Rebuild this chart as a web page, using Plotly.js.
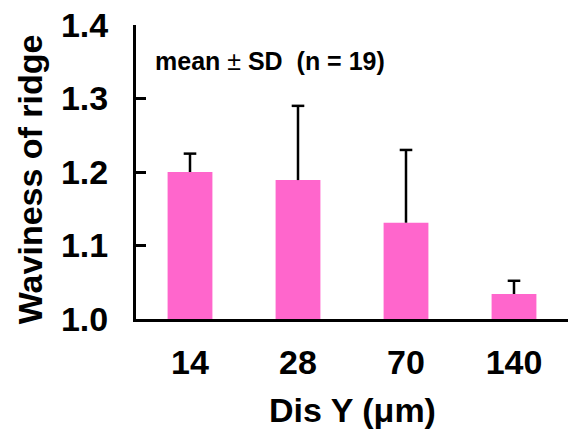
<!DOCTYPE html>
<html>
<head>
<meta charset="utf-8">
<script src="https://cdn.plot.ly/plotly-3.0.1.min.js"></script>
<style>html,body{margin:0;padding:0;background:#fff;}#chart{width:573px;height:430px;}</style>
</head>
<body>
<div id="chart"></div>
<script>
const categories = ["14", "28", "70", "140"];
const meanValues = [1.200, 1.189, 1.131, 1.034];
const sdValues = [0.025, 0.101, 0.099, 0.018];
const yTickVals = [1.0, 1.1, 1.2, 1.3, 1.4];
const yTickText = ["1.0", "1.1", "1.2", "1.3", "1.4"];

const FONT = "Liberation Sans, Arial, sans-serif";

const barTrace = {
  type: "bar",
  x: categories,
  y: meanValues,
  width: 0.415,
  marker: {color: "#ff66cc", line: {width: 0}},
  hoverinfo: "none"
};

// upper-only SD whisker: vertical line from mean to mean+SD
const whiskerTrace = {
  type: "scatter",
  mode: "markers",
  x: categories,
  y: meanValues,
  marker: {size: 1, color: "rgba(0,0,0,0)"},
  error_y: {
    type: "data",
    symmetric: false,
    array: sdValues,
    arrayminus: sdValues.map(() => 0),
    color: "#000",
    thickness: 2.5,
    width: 0
  },
  hoverinfo: "none"
};

// cap at mean+SD
const capTrace = {
  type: "scatter",
  mode: "markers",
  x: categories,
  y: meanValues.map((m, i) => m + sdValues[i]),
  marker: {symbol: "line-ew", size: 9, line: {color: "#000", width: 2.5}},
  hoverinfo: "none"
};

const layout = {
  width: 573,
  height: 430,
  margin: {l: 136, r: 5, t: 25, b: 111},
  paper_bgcolor: "#fff",
  plot_bgcolor: "#fff",
  showlegend: false,
  font: {family: FONT, color: "#000"},
  xaxis: {
    type: "category",
    showline: true,
    linecolor: "#000",
    linewidth: 3,
    ticks: "",
    showgrid: false,
    zeroline: false,
    tickfont: {family: FONT, size: 34, weight: "bold", color: "#000"},
    ticklabelstandoff: 11
  },
  yaxis: {
    range: [1.0, 1.4],
    tickvals: yTickVals,
    ticktext: yTickText,
    showline: true,
    linecolor: "#000",
    linewidth: 3,
    ticks: "inside",
    ticklen: 10,
    tickwidth: 3,
    tickcolor: "#000",
    showgrid: false,
    zeroline: false,
    tickfont: {family: FONT, size: 34, weight: "bold", color: "#000"},
    ticklabelstandoff: 18
  },
  annotations: [
    {
      text: "<b>Waviness of ridge</b>",
      xref: "paper", yref: "paper",
      x: -0.245, y: 0.476,
      xanchor: "center", yanchor: "middle",
      textangle: -90,
      showarrow: false,
      font: {family: FONT, size: 34, color: "#000"}
    },
    {
      text: "<b>Dis Y (\u03bcm)</b>",
      xref: "paper", yref: "paper",
      x: 0.5, y: -0.31,
      xanchor: "center", yanchor: "middle",
      showarrow: false,
      font: {family: FONT, size: 34, color: "#000"}
    },
    {
      text: "<b>mean</b> \u00b1 <b>SD\u00a0\u00a0(n = 19)</b>",
      xref: "paper", yref: "paper",
      x: 0.04, y: 0.878,
      xanchor: "left", yanchor: "middle",
      showarrow: false,
      font: {family: FONT, size: 25, color: "#000"}
    }
  ]
};

Plotly.newPlot("chart", [barTrace, whiskerTrace, capTrace], layout, {displayModeBar: false, staticPlot: true});
</script>
</body>
</html>
